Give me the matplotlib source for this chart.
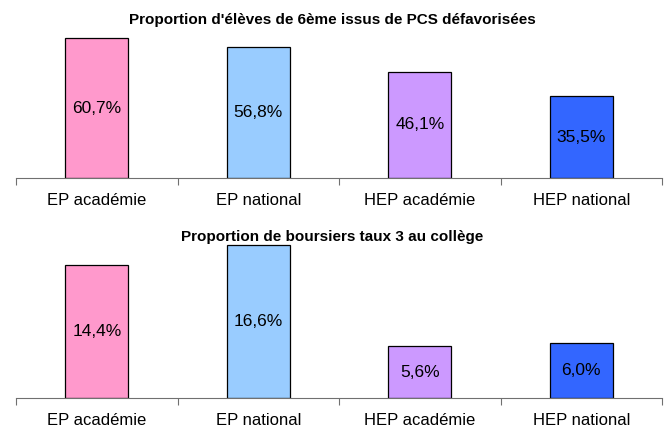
import matplotlib
matplotlib.use("Agg")
import matplotlib.pyplot as plt
import numpy as np

categories = ["EP académie", "EP national", "HEP académie", "HEP national"]
pcs_values = [60.7, 56.8, 46.1, 35.5]
boursiers_values = [14.4, 16.6, 5.6, 6.0]
colors = ["#FF99CC", "#99CCFF", "#CC99FF", "#3366FF"]

title_top = "Proportion d'élèves de 6ème issus de PCS défavorisées"
title_bottom = "Proportion de boursiers taux 3 au collège"

plt.rcParams["font.family"] = ["Liberation Sans", "DejaVu Sans"]

fig = plt.figure(figsize=(6.64, 4.25), dpi=100)


def fmt(v):
    return f"{v:.1f}".replace(".", ",") + "%"


def panel(rect, values, ymax):
    ax = fig.add_axes(rect)
    x = np.arange(len(values))
    bars = ax.bar(x, values, width=0.39, color=colors, edgecolor="black", linewidth=0.9)
    for b, v in zip(bars, values):
        ax.text(b.get_x() + b.get_width() / 2, v / 2, fmt(v),
                ha="center", va="center", fontsize=12.5)
    ax.set_xlim(-0.5, len(values) - 0.5)
    ax.set_ylim(0, ymax)
    for s in ["top", "right", "left"]:
        ax.spines[s].set_visible(False)
    ax.spines["bottom"].set_color("#707070")
    ax.set_yticks([])
    ax.set_xticks(np.arange(len(values) + 1) - 0.5)
    ax.set_xticklabels([])
    ax.tick_params(axis="x", which="major", length=5, color="#707070", direction="out")
    ax.set_xticks(x, minor=True)
    ax.set_xticklabels(categories, minor=True, fontsize=12)
    ax.tick_params(axis="x", which="minor", length=0, pad=11)
    return ax


# haut: axe a y=178 px, 2.306 px par point
panel([16 / 664, 247 / 425, 646 / 664, 161 / 425], pcs_values, 70)
# bas: axe a y=398 px, 9.22 px par point
panel([16 / 664, 27 / 425, 646 / 664, 166 / 425], boursiers_values, 18)

fig.text(0.5, 1 - 20 / 425, title_top, ha="center", va="center",
         fontsize=11, fontweight="bold")
fig.text(0.5, 1 - 237 / 425, title_bottom, ha="center", va="center",
         fontsize=11, fontweight="bold")

fig.savefig("out.png", dpi=100)
plt.close(fig)
